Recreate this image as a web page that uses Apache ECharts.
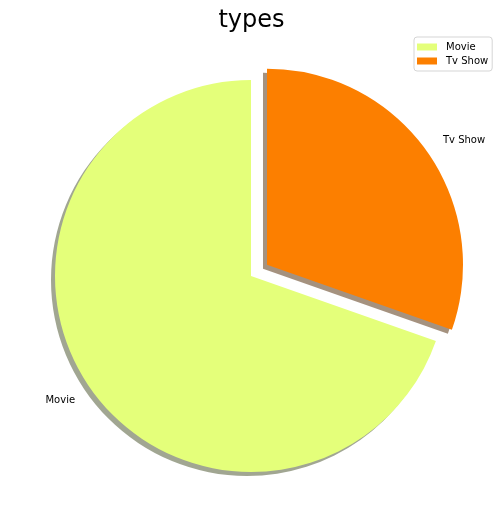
<!DOCTYPE html>
<html>
<head>
<meta charset="utf-8">
<script src="https://cdn.jsdelivr.net/npm/echarts@6/dist/echarts.min.js"></script>
<style>html,body{margin:0;padding:0;background:#fff;}#c{width:503px;height:528px;}</style>
</head>
<body>
<div id="c"></div>
<script>
const categories = ['Movie', 'Tv Show'];
const values = [6131, 2676];
const colors = ['#e4ff7a', '#fc7f00'];
const shadowColors = ['rgba(68,77,37,0.5)', 'rgba(76,38,0,0.5)'];
const exploded = [false, true];

const chart = echarts.init(document.getElementById('c'), null, {renderer: 'canvas'});
const font = 'DejaVu Sans';
chart.setOption({
  animation: false,
  backgroundColor: '#ffffff',
  title: {
    text: 'types', left: 'center', top: 4,
    textStyle: {fontFamily: font, fontSize: 24, fontWeight: 'normal', color: '#000'}
  },
  legend: {
    data: categories, orient: 'vertical', left: 414, top: 37,
    padding: [5, 4, 5, 3], itemGap: 4, itemWidth: 20, itemHeight: 7, icon: 'rect',
    borderColor: '#d5d5d5', borderWidth: 1, borderRadius: 3,
    textStyle: {fontFamily: font, fontSize: 10, color: '#000', padding: [0, 0, 0, 4]}
  },
  series: [{
    type: 'pie',
    center: [251, 276], radius: 196,
    startAngle: 90, clockwise: false,
    selectedMode: 'multiple', selectedOffset: 19.6,
    avoidLabelOverlap: false,
    label: {show: true, position: 'outside', fontFamily: font, fontSize: 10, color: '#000', distanceToLabelLine: 0},
    labelLine: {show: false, length: 19.6, length2: 0},
    emphasis: {disabled: true},
    select: {itemStyle: {borderWidth: 0}},
    data: categories.map((c, i) => ({
      name: c, value: values[i], selected: exploded[i],
      itemStyle: {color: colors[i], borderWidth: 0, shadowBlur: 0, shadowOffsetX: -4, shadowOffsetY: 4, shadowColor: shadowColors[i]}
    }))
  }]
});
</script>
</body>
</html>
